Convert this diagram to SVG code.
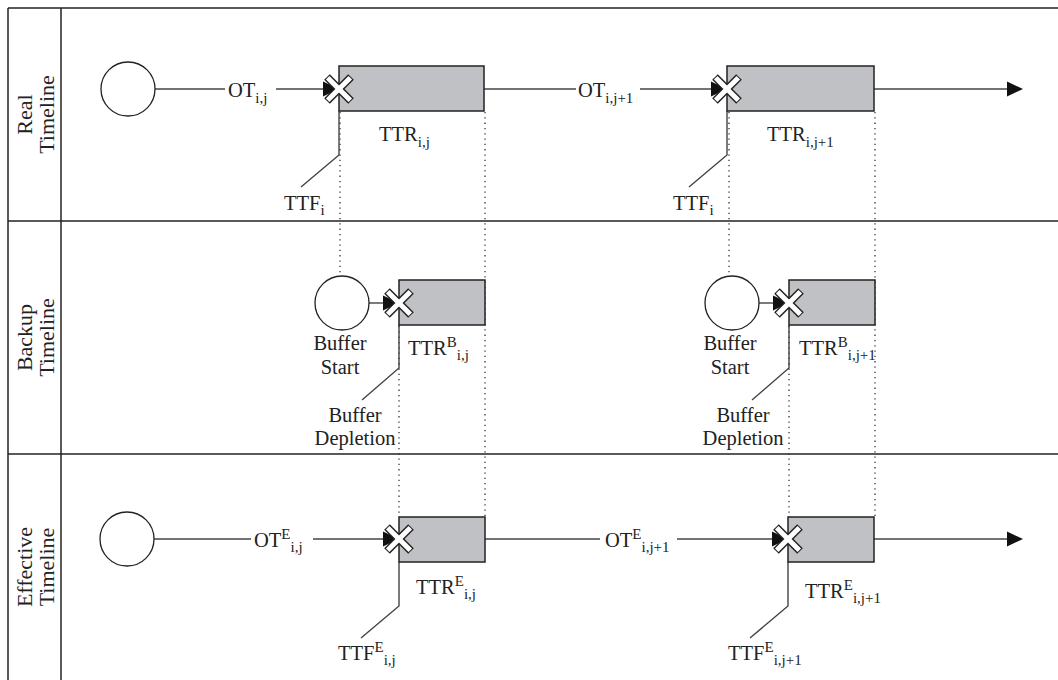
<svg xmlns="http://www.w3.org/2000/svg" width="1058" height="680" viewBox="0 0 1058 680">
<style>
.frame{stroke:#222;stroke-width:1.5;fill:none}
.ln{stroke:#444;stroke-width:1.4;fill:none}
.dot{stroke:#333;stroke-width:1.3;stroke-dasharray:1.3,4;fill:none}
.box{fill:#c0c1c4;stroke:#222;stroke-width:1.5}
.circ{fill:#fff;stroke:#222;stroke-width:1.3}
.ah{fill:#111}
.xo{stroke:#222;stroke-width:8;stroke-linecap:butt}
.xi{stroke:#fff;stroke-width:5;stroke-linecap:butt}
text{font-family:"Liberation Serif","Times New Roman",serif;font-size:20.5px;fill:#222}
.s{font-size:15px}
.lab{font-size:22px}
</style>
<defs>
<g id="cross">
<line class="xo" x1="-12" y1="-12" x2="12" y2="12"/>
<line class="xo" x1="-12" y1="12" x2="12" y2="-12"/>
<line class="xi" x1="-11.3" y1="-11.3" x2="11.3" y2="11.3"/>
<line class="xi" x1="-11.3" y1="11.3" x2="11.3" y2="-11.3"/>
</g>
<polygon id="head" points="-16,-7.5 0,0 -16,7.5"/>
</defs>

<g id="frame">
<line class="frame" x1="8" y1="8" x2="1058" y2="8"/>
<line class="frame" x1="8" y1="8" x2="8" y2="680"/>
<line class="frame" x1="61" y1="8" x2="61" y2="680"/>
<line class="frame" x1="8" y1="221" x2="1058" y2="221"/>
<line class="frame" x1="8" y1="454" x2="1058" y2="454"/>
</g>

<g id="row-labels">
<text class="lab" text-anchor="middle" transform="translate(32,114.5) rotate(-90)">Real</text>
<text class="lab" text-anchor="middle" transform="translate(54,114.5) rotate(-90)">Timeline</text>
<text class="lab" text-anchor="middle" transform="translate(32,337.5) rotate(-90)">Backup</text>
<text class="lab" text-anchor="middle" transform="translate(54,337.5) rotate(-90)">Timeline</text>
<text class="lab" text-anchor="middle" transform="translate(32,567) rotate(-90)">Effective</text>
<text class="lab" text-anchor="middle" transform="translate(54,567) rotate(-90)">Timeline</text>
</g>

<g id="connectors">
<line class="dot" x1="340" y1="112" x2="340" y2="274"/>
<line class="dot" x1="485" y1="112" x2="485" y2="517"/>
<line class="dot" x1="399" y1="326" x2="399" y2="517"/>
<line class="dot" x1="729" y1="112" x2="729" y2="274"/>
<line class="dot" x1="875" y1="112" x2="875" y2="517"/>
<line class="dot" x1="789" y1="326" x2="789" y2="517"/>
<line class="ln" x1="155" y1="89" x2="225" y2="89"/>
<line class="ln" x1="276" y1="89" x2="327" y2="89"/>
<line class="ln" x1="484" y1="89" x2="576" y2="89"/>
<line class="ln" x1="640" y1="89" x2="715" y2="89"/>
<line class="ln" x1="874" y1="89" x2="1010" y2="89"/>
<use href="#head" class="ah" x="1023" y="89"/>
<line class="ln" x1="369" y1="303" x2="388" y2="303"/>
<line class="ln" x1="759" y1="303" x2="778" y2="303"/>
<line class="ln" x1="154" y1="539" x2="251" y2="539"/>
<line class="ln" x1="313" y1="539" x2="388" y2="539"/>
<line class="ln" x1="485" y1="539" x2="600" y2="539"/>
<line class="ln" x1="677" y1="539" x2="777" y2="539"/>
<line class="ln" x1="874" y1="539" x2="1010" y2="539"/>
<use href="#head" class="ah" x="1023" y="539"/>
<polyline class="ln" points="339,111 339,155 301,187"/>
<polyline class="ln" points="727,111 727,155 689,187"/>
<polyline class="ln" points="399,325 399,368 362,400"/>
<polyline class="ln" points="789,325 789,368 752,400"/>
<polyline class="ln" points="399,562 399,606 361,638"/>
<polyline class="ln" points="788,562 788,606 750,638"/>
</g>

<g id="real-start"><circle class="circ" cx="128" cy="89" r="27"/></g>
<g id="real-ttr1">
<rect class="box" x="339" y="66" width="145" height="45"/>
<use href="#head" class="ah" x="339" y="89"/>
<use href="#cross" x="339" y="89"/>
</g>
<g id="real-ttr2">
<rect class="box" x="727" y="66" width="147" height="45"/>
<use href="#head" class="ah" x="727" y="89"/>
<use href="#cross" x="727" y="89"/>
</g>

<g id="backup-start1"><circle class="circ" cx="342" cy="303" r="27"/></g>
<g id="backup-ttr1">
<rect class="box" x="399" y="280" width="86" height="45"/>
<use href="#head" class="ah" x="399" y="303"/>
<use href="#cross" x="399" y="303"/>
</g>
<g id="backup-start2"><circle class="circ" cx="732" cy="303" r="27"/></g>
<g id="backup-ttr2">
<rect class="box" x="789" y="280" width="86" height="45"/>
<use href="#head" class="ah" x="789" y="303"/>
<use href="#cross" x="789" y="303"/>
</g>

<g id="eff-start"><circle class="circ" cx="127" cy="539" r="27"/></g>
<g id="eff-ttr1">
<rect class="box" x="399" y="517" width="86" height="45"/>
<use href="#head" class="ah" x="399" y="539"/>
<use href="#cross" x="399" y="539"/>
</g>
<g id="eff-ttr2">
<rect class="box" x="788" y="517" width="86" height="45"/>
<use href="#head" class="ah" x="788" y="539"/>
<use href="#cross" x="788" y="539"/>
</g>

<g id="labels">
<text x="228" y="97">OT<tspan class="s" dy="6">i,j</tspan></text>
<text x="379" y="141">TTR<tspan class="s" dy="6">i,j</tspan></text>
<text x="284" y="210">TTF<tspan class="s" dy="5">i</tspan></text>
<text x="578" y="97">OT<tspan class="s" dy="6">i,j+1</tspan></text>
<text x="767" y="141">TTR<tspan class="s" dy="6">i,j+1</tspan></text>
<text x="673" y="210">TTF<tspan class="s" dy="5">i</tspan></text>

<text x="340" y="350" text-anchor="middle">Buffer</text>
<text x="340" y="374" text-anchor="middle">Start</text>
<text x="408" y="355">TTR<tspan class="s" dy="-8">B</tspan><tspan class="s" dy="13">i,j</tspan></text>
<text x="355" y="422" text-anchor="middle">Buffer</text>
<text x="355" y="445" text-anchor="middle">Depletion</text>

<text x="730" y="350" text-anchor="middle">Buffer</text>
<text x="730" y="374" text-anchor="middle">Start</text>
<text x="799" y="355">TTR<tspan class="s" dy="-8">B</tspan><tspan class="s" dy="13">i,j+1</tspan></text>
<text x="743" y="422" text-anchor="middle">Buffer</text>
<text x="743" y="445" text-anchor="middle">Depletion</text>

<text x="254" y="547">OT<tspan class="s" dy="-8">E</tspan><tspan class="s" dy="13">i,j</tspan></text>
<text x="416" y="594">TTR<tspan class="s" dy="-8">E</tspan><tspan class="s" dy="13">i,j</tspan></text>
<text x="338" y="660">TTF<tspan class="s" dy="-8">E</tspan><tspan class="s" dy="13">i,j</tspan></text>
<text x="605" y="547">OT<tspan class="s" dy="-8">E</tspan><tspan class="s" dy="13">i,j+1</tspan></text>
<text x="805" y="598">TTR<tspan class="s" dy="-8">E</tspan><tspan class="s" dy="13">i,j+1</tspan></text>
<text x="728" y="660">TTF<tspan class="s" dy="-8">E</tspan><tspan class="s" dy="13">i,j+1</tspan></text>
</g>
</svg>
